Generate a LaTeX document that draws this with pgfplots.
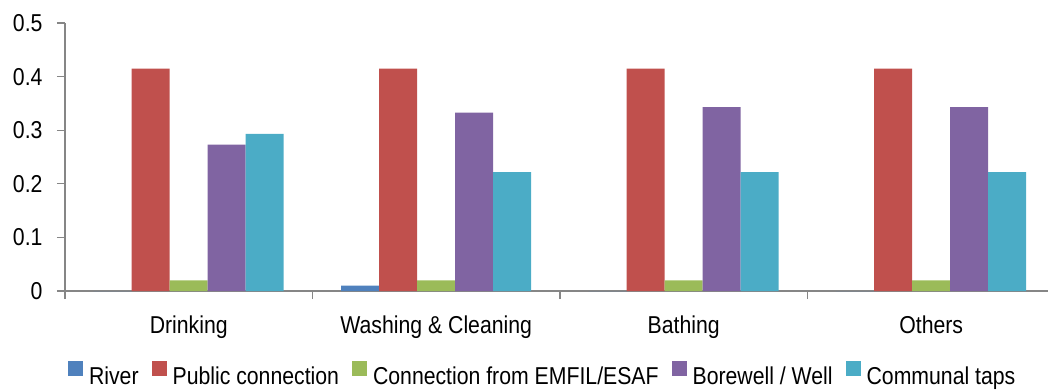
\documentclass[border=0pt]{standalone}
\usepackage{pgfplots}
\pgfplotsset{compat=1.18}
\usepackage{pgfplotstable}
\usepackage{fontspec}
\setmainfont{Liberation Sans}[FakeStretch=0.87]
\definecolor{cRiver}{HTML}{4F81BD}
\definecolor{cPublic}{HTML}{C0504D}
\definecolor{cEmfil}{HTML}{9BBB59}
\definecolor{cBore}{HTML}{8064A2}
\definecolor{cTaps}{HTML}{4BACC6}
\definecolor{axisgray}{HTML}{868686}
\pgfplotstableread{
x river public emfil bore taps
0 0    0.415 0.02 0.273 0.293
1 0.01 0.415 0.02 0.333 0.222
2 0    0.415 0.02 0.343 0.222
3 0    0.415 0.02 0.343 0.222
}\datatable
\begin{document}
\begin{tikzpicture}
\begin{axis}[
  at={(0,0)}, anchor=south west,
  scale only axis, width=983bp, height=268bp,
  ybar=0pt, bar width=38bp,
  xmin=-0.5, xmax=3.472, ymin=0, ymax=0.5,
  axis x line*=bottom, axis y line*=left,
  axis line style={draw=axisgray, line width=1.2bp, -},
  xtick={0,1,2,3},
  xticklabels={Drinking, Washing \& Cleaning, Bathing, Others},
  major x tick style={draw=none},
  minor xtick={-0.5,0.5,1.5,2.5},
  ytick={0,0.1,0.2,0.3,0.4,0.5},
  tick align=outside,
  tick style={draw=axisgray, line width=1.2bp},
  major tick length=8bp, minor tick length=8bp,
  yticklabel style={/pgf/number format/fixed, /pgf/number format/precision=1, xshift=-11bp},
  xticklabel style={yshift=-13bp},
  /pgf/number format/assume math mode=true,
  ticklabel style={font=\fontsize{24.5}{27}\selectfont},
  legend style={at={(0.486,-0.312)}, anchor=center, draw=none, fill=none,
    font=\fontsize{24.5}{27}\selectfont,
    /tikz/every even column/.append style={column sep=11bp}},
  legend columns=5,
  legend cell align=left,
  legend image code/.code={\fill[#1] (0bp,0.5bp) rectangle (15bp,15.5bp); \path (19bp,0bp);},
]
\addplot[fill=cRiver, draw=none] table[x=x, y=river] {\datatable};
\addlegendentry{River}
\addplot[fill=cPublic, draw=none] table[x=x, y=public] {\datatable};
\addlegendentry{Public connection}
\addplot[fill=cEmfil, draw=none] table[x=x, y=emfil] {\datatable};
\addlegendentry{Connection from EMFIL/ESAF}
\addplot[fill=cBore, draw=none] table[x=x, y=bore] {\datatable};
\addlegendentry{Borewell / Well}
\addplot[fill=cTaps, draw=none] table[x=x, y=taps] {\datatable};
\addlegendentry{Communal taps}
\end{axis}
\pgfresetboundingbox
\useasboundingbox (-65bp,-100bp) rectangle (983bp,291bp);
\end{tikzpicture}
\end{document}
